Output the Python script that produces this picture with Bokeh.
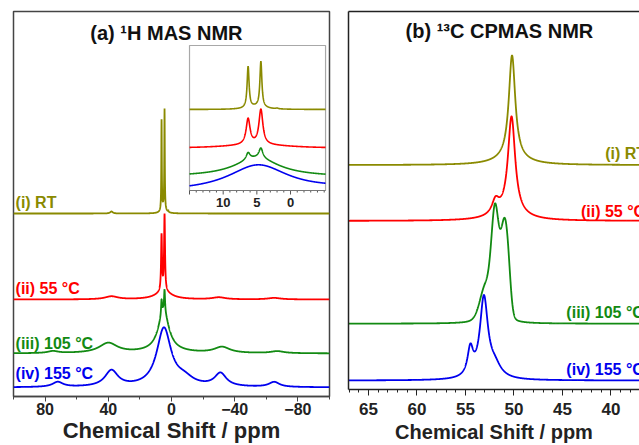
import numpy as np
from bokeh.plotting import figure
from bokeh.layouts import row
from bokeh.models import Range1d, FixedTicker, LinearAxis
from bokeh.core.properties import value
from bokeh.embed import file_html
from bokeh.resources import INLINE

FONT = "Liberation Sans"

# ---------------- Panel (a): 1H MAS NMR  (peak lists) ----------------
# positions (ppm), heights (arbitrary units), widths (FWHM, ppm)
H_RT_POS = [6.3, 4.4, 5.0, 38.0, 2.0]
H_RT_HT = [90, 99, 6, 2, 1.5]
H_RT_FWHM = [0.35, 0.35, 3.0, 2.0, 0.4]

H_55_POS = [6.3, 4.4, 5.0, 38.0, -30.0, -65.0]
H_55_HT = [56, 76, 8, 3, 2, 1.5]
H_55_FWHM = [0.7, 0.7, 12.0, 10.0, 10.0, 10.0]

H_105_POS = [6.3, 4.4, 5.0, 5.0, 40.0, 75.0, -32.0, -67.0]
H_105_HT = [15, 22, 40, 2, 10, 2, 6, 2]
H_105_FWHM = [0.7, 0.7, 8.0, 30.0, 14.0, 8.0, 12.0, 10.0]

H_155_POS = [4.8, -8.0, 38.0, 72.0, -31.0, -65.0]
H_155_HT = [58, 7, 16, 5, 13, 5]
H_155_FWHM = [11.0, 14.0, 10.0, 8.0, 9.0, 8.0]

H_LABELS = ["(i) RT", "(ii) 55 °C", "(iii) 105 °C", "(iv) 155 °C"]
H_TICKS = [80, 40, 0, -40, -80]
H_MINOR = [100, 60, 20, -20, -60, -100]
INSET_TICKS = [15, 10, 5, 0]
INSET_TICK_LABELS = ["10", "5", "0"]
X_TITLE = "Chemical Shift / ppm"

# ---------------- Panel (b): 13C CPMAS NMR ----------------
C_RT_POS = [50.2, 50.3]
C_RT_HT = [104, 6]
C_RT_FWHM = [0.8, 4.0]
C_RT_ETA = [1.0, 1.0]

C_55_POS = [50.25, 51.9, 50.5]
C_55_HT = [98, 14, 6]
C_55_FWHM = [0.9, 0.9, 4.0]
C_55_ETA = [1.0, 1.0, 1.0]

C_105_POS = [51.95, 51.0, 50.6, 53.0]
C_105_HT = [108, 86, 25, 32]
C_105_FWHM = [0.95, 0.9, 0.65, 1.3]
C_105_ETA = [0.25, 0.2, 0.0, 0.3]

C_155_POS = [53.1, 54.5, 52.0]
C_155_HT = [80, 27, 12]
C_155_FWHM = [1.0, 0.7, 1.6]
C_155_ETA = [1.0, 1.0, 1.0]

C_LABELS = ["(i) RT", "(ii) 55 °C", "(iii) 105 °C", "(iv) 155 °C"]
C_TICKS = [65, 60, 55, 50, 45, 40]

COLORS = ["#8a8a00", "#ff0000", "#128a12", "#0000ee"]


def spectrum(x, pos, ht, fwhm, eta=None):
    if eta is None:
        eta = [1.0] * len(pos)
    y = np.zeros_like(x)
    for c, h, w, e in zip(pos, ht, fwhm, eta):
        d = x - c
        lor = 1.0 / (1.0 + (2.0 * d / w) ** 2)
        gau = np.exp(-4.0 * np.log(2.0) * (d / w) ** 2)
        y += h * (e * lor + (1.0 - e) * gau)
    return y


def style_axis(a, tick_size, label_size, label_standoff, tick_standoff, tick_out, color):
    a.axis_label = X_TITLE
    a.axis_label_text_font = FONT
    a.axis_label_text_font_style = "bold"
    a.axis_label_text_font_size = label_size
    a.axis_label_text_color = "#222222"
    a.axis_label_standoff = label_standoff
    a.major_label_text_font = FONT
    a.major_label_text_font_style = "bold"
    a.major_label_text_font_size = tick_size
    a.major_label_text_color = "#222222"
    a.major_label_standoff = tick_standoff
    a.major_tick_out = tick_out
    a.major_tick_in = 0
    a.minor_tick_out = 3
    a.minor_tick_in = 0
    a.axis_line_color = color
    a.axis_line_width = 1.5
    a.major_tick_line_color = color
    a.minor_tick_line_color = color


# ---------------- figure (a) ----------------
p1 = figure(width=331, height=445, x_range=Range1d(100, -100), y_range=Range1d(0, 385),
            output_backend="svg", toolbar_location=None, y_axis_location=None,
            min_border_left=13, min_border_right=2, min_border_top=11, min_border_bottom=49)
p1.frame_align = False
p1.grid.visible = False
p1.outline_line_color = "#444444"
p1.outline_line_width = 1.5
p1.background_fill_color = "white"
p1.border_fill_color = "white"

ax = p1.xaxis[0]
ax.ticker = FixedTicker(ticks=H_TICKS, minor_ticks=H_MINOR)
style_axis(ax, "16px", "22px", 0, 1, 5, "#444444")

XA = np.linspace(-100, 100, 4001)
H_SETS = [(H_RT_POS, H_RT_HT, H_RT_FWHM), (H_55_POS, H_55_HT, H_55_FWHM),
          (H_105_POS, H_105_HT, H_105_FWHM), (H_155_POS, H_155_HT, H_155_FWHM)]
H_OFFSETS = [183, 97, 43, 9]
for (pos, ht, fw), off, col in zip(H_SETS, H_OFFSETS, COLORS):
    p1.line(XA, off + spectrum(XA, pos, ht, fw), line_color=col, line_width=1.8)

p1.text(x=[98.7] * 4, y=[194, 108, 53, 23], text=H_LABELS, text_color=COLORS,
        text_font=value(FONT), text_font_style="bold", text_font_size="16px",
        text_align="left", text_baseline="middle")
p1.text(x=[3.2], y=[364], text=["(a) ¹H MAS NMR"], text_color="#111111",
        text_font=value(FONT), text_font_style="bold", text_font_size="20px",
        text_align="center", text_baseline="middle")

# ---- inset (zoom of 15 .. -5 ppm) ----
ins = p1.subplot(x_source=Range1d(15, -5.2), y_source=Range1d(0, 145),
                 x_target=Range1d(-11.4, -97.5), y_target=Range1d(206, 351))
ins.quad(left=[15], right=[-5.2], bottom=[0], top=[145], fill_color="white",
         line_color="#a8a8a8", line_width=1.2)
XI = np.linspace(-5.2, 15, 1011)
INSET_SCALE = 0.46
INSET_OFFSETS = [81, 42, 13, -2]
for (pos, ht, fw), off, col in zip(H_SETS, INSET_OFFSETS, COLORS):
    yi = np.clip(off + INSET_SCALE * spectrum(XI, pos, ht, fw), 0, 145)
    ins.line(XI, yi, line_color=col, line_width=1.6)
minor_i = [t for t in range(-5, 16) if t not in INSET_TICKS]
ins.segment(x0=minor_i, y0=[0] * len(minor_i), x1=minor_i, y1=[-2] * len(minor_i),
            line_color="#555555", line_width=1)
ins.segment(x0=INSET_TICKS, y0=[0] * 4, x1=INSET_TICKS, y1=[-4] * 4,
            line_color="#555555", line_width=1)
ins.segment(x0=[15], y0=[0], x1=[-5.2], y1=[0], line_color="#777777", line_width=1.2)
ins.text(x=[10, 5, 0], y=[-12] * 3, text=INSET_TICK_LABELS, text_color="#222222",
         text_font=value(FONT), text_font_style="bold", text_font_size="13px",
         text_align="center", text_baseline="middle")

# ---------------- figure (b) ----------------
p2 = figure(width=308, height=445, x_range=Range1d(67.06, 37.06), y_range=Range1d(0, 379),
            output_backend="svg", toolbar_location=None, y_axis_location=None,
            min_border_left=17, min_border_right=0, min_border_top=11, min_border_bottom=55)
p2.frame_align = False
p2.grid.visible = False
p2.outline_line_color = None
p2.background_fill_color = "white"
p2.border_fill_color = "white"

bx = p2.xaxis[0]
bx.ticker = FixedTicker(ticks=C_TICKS, minor_ticks=list(range(37, 68)))
style_axis(bx, "17px", "20px", 3, 7, 6, "#222222")

for loc in ["left", "above"]:
    a = LinearAxis(ticker=FixedTicker(ticks=[]), major_tick_out=0, major_tick_in=0,
                   minor_tick_out=0, minor_tick_in=0, major_label_text_font_size="0px",
                   major_label_standoff=0, axis_line_color="#222222", axis_line_width=1.5)
    p2.add_layout(a, loc)

XC = np.linspace(37, 67.06, 3007)
C_SETS = [(C_RT_POS, C_RT_HT, C_RT_FWHM, C_RT_ETA), (C_55_POS, C_55_HT, C_55_FWHM, C_55_ETA),
          (C_105_POS, C_105_HT, C_105_FWHM, C_105_ETA), (C_155_POS, C_155_HT, C_155_FWHM, C_155_ETA)]
C_OFFSETS = [225, 169, 66, 9]
for (pos, ht, fw, eta), off, col in zip(C_SETS, C_OFFSETS, COLORS):
    p2.line(XC, off + spectrum(XC, pos, ht, fw, eta), line_color=col, line_width=1.8)

p2.text(x=[40.6, 43.1, 44.6, 44.6], y=[237, 178, 77, 20], text=C_LABELS, text_color=COLORS,
        text_font=value(FONT), text_font_style="bold", text_font_size="16px",
        text_align="left", text_baseline="middle")
p2.text(x=[51.5], y=[359], text=["(b) ¹³C CPMAS NMR"], text_color="#111111",
        text_font=value(FONT), text_font_style="bold", text_font_size="20px",
        text_align="center", text_baseline="middle")

layout = row(p1, p2)
open("out.html", "w").write(file_html(layout, INLINE))
